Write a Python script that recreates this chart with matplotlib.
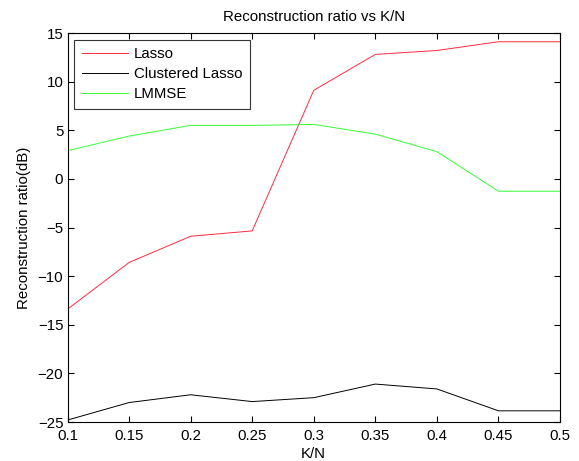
import matplotlib
matplotlib.use("Agg")
import matplotlib.pyplot as plt

plt.rcParams['font.family'] = ['Liberation Sans', 'DejaVu Sans']

kn = [0.1, 0.15, 0.2, 0.25, 0.3, 0.35, 0.4, 0.45, 0.5]
lasso = [-13.4, -8.6, -5.9, -5.35, 9.1, 12.8, 13.2, 14.1, 14.1]
clustered = [-24.8, -23.0, -22.2, -22.9, -22.5, -21.1, -21.6, -23.85, -23.85]
lmmse = [2.9, 4.4, 5.5, 5.5, 5.6, 4.6, 2.8, -1.27, -1.27]

xticks = [0.1, 0.15, 0.2, 0.25, 0.3, 0.35, 0.4, 0.45, 0.5]
xticklabels = ['0.1', '0.15', '0.2', '0.25', '0.3', '0.35', '0.4', '0.45', '0.5']
yticks = [-25, -20, -15, -10, -5, 0, 5, 10, 15]

FS = 10.8

fig = plt.figure(figsize=(5.79, 4.61), dpi=100)
ax = fig.add_axes([67.5/579, 1 - 422/461, (560 - 67.5)/579, (422 - 33)/461])

ax.plot(kn, lasso, color='#ff2a40', lw=0.7, label='Lasso')
ax.plot(kn, clustered, color='black', lw=0.7, label='Clustered Lasso')
ax.plot(kn, lmmse, color='#33ff33', lw=0.7, label='LMMSE')

ax.set_xlim(0.1, 0.5)
ax.set_ylim(-25, 15)
ax.set_xticks(xticks)
ax.set_xticklabels(xticklabels)
ax.set_yticks(yticks)
ax.tick_params(direction='in', length=4, width=0.8, labelsize=FS, top=True, right=True)
ax.tick_params(axis='x', pad=5)
ax.tick_params(axis='y', pad=3)
for s in ax.spines.values():
    s.set_linewidth(0.8)

ax.set_title('Reconstruction ratio vs K/N', fontsize=FS, pad=9)
ax.set_xlabel('K/N', fontsize=FS, labelpad=3)
ax.set_ylabel('Reconstruction ratio(dB)', fontsize=FS, labelpad=5)

leg = ax.legend(loc='upper left', fontsize=FS, frameon=True, fancybox=False,
                edgecolor='black', handlelength=3.1, borderaxespad=0.45,
                labelspacing=0.4, handletextpad=0.35, borderpad=0.5)
leg.get_frame().set_linewidth(0.8)

fig.savefig('out.png', dpi=100)
